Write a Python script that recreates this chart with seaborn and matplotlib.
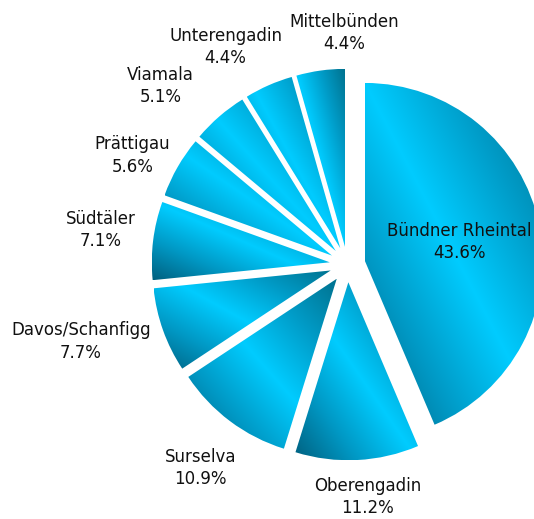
import numpy as np
import matplotlib
matplotlib.use("Agg")
import matplotlib.pyplot as plt
import seaborn as sns

# share of each region (%), clockwise from 12 o'clock
regions = ["Bündner Rheintal", "Oberengadin", "Surselva", "Davos/Schanfigg", "Südtäler",
           "Prättigau", "Viamala", "Unterengadin", "Mittelbünden"]
shares = [43.6, 11.2, 10.9, 7.7, 7.1, 5.6, 5.1, 4.4, 4.4]

sns.set_theme(style="white")
plt.rcParams["font.family"] = ["DejaVu Sans"]

fig = plt.figure(figsize=(5.34, 5.19), dpi=100)
ax = fig.add_axes([0, 0, 1, 1])

wedges, _ = ax.pie(shares, startangle=90, counterclock=False,
                   explode=[0.1] * len(shares), radius=1)

# diagonal cyan gradient per slice (dark - bright - medium)
shade = sns.blend_palette(["#00607f", "#0098c4", "#00ccff", "#009cc8", "#00728f"], as_cmap=True)
n = 256
u = np.linspace(0, 1, n)
grad = (u[None, :] + 1 - u[:, None]) / 2

for w in wedges:
    w.set_facecolor("none")
    w.set_edgecolor("none")
    bb = w.get_path().get_extents()
    im = ax.imshow(grad, cmap=shade, vmin=0, vmax=1, origin="upper",
                   extent=(bb.x0, bb.x1, bb.y0, bb.y1), interpolation="bilinear")
    im.set_clip_path(w)

# label placement: distance from centre and small angular nudge
label_dist = [0.64, 1.31, 1.41, 1.56, 1.40, 1.355, 1.45, 1.40, 1.30]
label_turn = [0, 2, 1, -3.5, -1, 3, 5.5, 5.5, -7]
for w, name, val, d, turn in zip(wedges, regions, shares, label_dist, label_turn):
    ang = np.deg2rad((w.theta1 + w.theta2) / 2 + turn)
    ax.text(d * np.cos(ang), d * np.sin(ang), f"{name}\n{val:.1f}%",
            ha="center", va="center", fontsize=12, linespacing=1.3, color="#111111")

ax.set_xlim(-1.952, 1.048)
ax.set_ylim(-1.430, 1.486)
ax.set_aspect("auto")
ax.axis("off")

fig.savefig("out.png", dpi=100)
